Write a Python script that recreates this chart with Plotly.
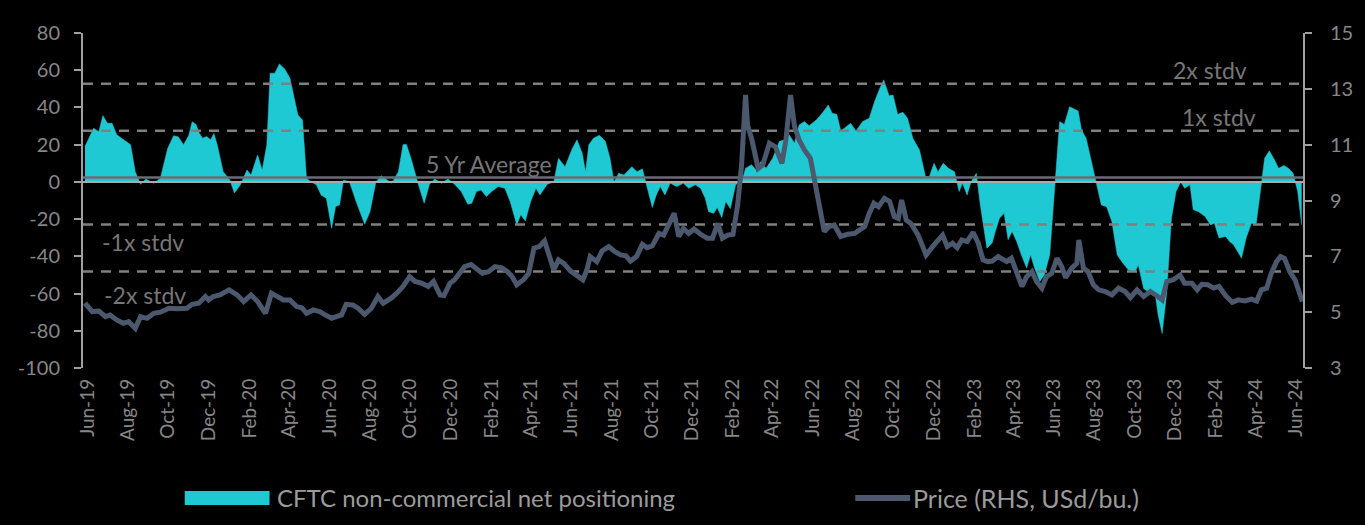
import plotly.graph_objects as go

# ---------------- data ----------------
pos_dates = [
    "2019-05-28","2019-06-10","2019-06-18","2019-06-24","2019-07-01","2019-07-08","2019-07-15","2019-07-25",
    "2019-08-05","2019-08-12","2019-08-20","2019-08-28","2019-09-09","2019-09-19","2019-09-30","2019-10-09",
    "2019-10-16","2019-10-24","2019-11-01","2019-11-06","2019-11-12","2019-11-17","2019-11-22","2019-11-28",
    "2019-12-04","2019-12-09","2019-12-14","2019-12-23","2020-01-02","2020-01-09","2020-01-18","2020-01-28",
    "2020-02-03","2020-02-13","2020-02-20","2020-02-27","2020-03-03","2020-03-10","2020-03-17","2020-03-25",
    "2020-04-02","2020-04-14","2020-04-21","2020-04-27","2020-05-04","2020-05-12","2020-05-19","2020-05-27",
    "2020-06-04","2020-06-10","2020-06-16","2020-06-22","2020-07-01","2020-07-11","2020-07-24","2020-08-01",
    "2020-08-10","2020-08-18","2020-09-03","2020-09-13","2020-09-20","2020-09-25","2020-10-02","2020-10-12",
    "2020-10-22","2020-10-30","2020-11-07","2020-11-17","2020-11-27","2020-12-07","2020-12-17","2020-12-27",
    "2021-01-02","2021-01-09","2021-01-16","2021-01-24","2021-02-01","2021-02-11","2021-02-21","2021-03-01",
    "2021-03-11","2021-03-17","2021-03-24","2021-04-01","2021-04-09","2021-04-15","2021-04-26","2021-05-06",
    "2021-05-13","2021-05-23","2021-06-03","2021-06-10","2021-06-18","2021-06-23","2021-06-28","2021-07-05",
    "2021-07-14","2021-07-23","2021-07-30","2021-08-05","2021-08-12","2021-08-20","2021-09-01","2021-09-09",
    "2021-09-17","2021-09-22","2021-10-02","2021-10-08","2021-10-14","2021-10-21","2021-10-29","2021-11-08",
    "2021-11-18","2021-11-26","2021-12-06","2021-12-14","2021-12-21","2021-12-26","2022-01-03","2022-01-08",
    "2022-01-15","2022-01-21","2022-01-28","2022-02-05","2022-02-15","2022-02-20","2022-03-01","2022-03-08",
    "2022-03-15","2022-03-23","2022-04-02","2022-04-12","2022-04-20","2022-04-27","2022-05-05","2022-05-12",
    "2022-05-20","2022-05-27","2022-06-07","2022-06-17","2022-06-25","2022-07-01","2022-07-08","2022-07-14",
    "2022-07-22","2022-07-29","2022-08-06","2022-08-16","2022-08-26","2022-09-03","2022-09-11","2022-09-17",
    "2022-09-25","2022-10-01","2022-10-08","2022-10-16","2022-10-23","2022-10-31","2022-11-10","2022-11-19",
    "2022-11-25","2022-12-02","2022-12-08","2022-12-16","2022-12-24","2023-01-02","2023-01-09","2023-01-14",
    "2023-01-21","2023-01-27","2023-02-04","2023-02-10","2023-02-20","2023-02-28","2023-03-04","2023-03-11",
    "2023-03-18","2023-03-24","2023-03-30","2023-04-06","2023-04-13","2023-04-21","2023-04-27","2023-05-03",
    "2023-05-11","2023-05-18","2023-05-26","2023-06-03","2023-06-10","2023-06-17","2023-06-25","2023-07-08",
    "2023-07-13","2023-07-20","2023-07-28","2023-08-05","2023-08-12","2023-08-20","2023-08-28","2023-09-05",
    "2023-09-12","2023-09-22","2023-10-02","2023-10-07","2023-10-15","2023-10-22","2023-11-01","2023-11-06",
    "2023-11-12","2023-11-19","2023-11-26","2023-12-03","2023-12-10","2023-12-16","2023-12-24","2023-12-29",
    "2024-01-06","2024-01-16","2024-01-24","2024-01-30","2024-02-06","2024-02-16","2024-02-22","2024-02-28",
    "2024-03-05","2024-03-11","2024-03-18","2024-03-26","2024-04-02","2024-04-10","2024-04-15","2024-04-22",
    "2024-04-30","2024-05-06","2024-05-14","2024-05-21","2024-05-28","2024-06-04","2024-06-10",
]
pos_values = [
    19, 28.8, 27, 35.6, 31.5, 31.5, 25.3, 22.6,
    20, 5.5, -1.3, 1.6, -0.7, 2, 18, 24.8,
    24.2, 20, 25, 32.3, 30.9, 26, 23.5, 24.4,
    22.6, 26, 20, 5.5, 1, -6, -1.6, 6.4,
    3.7, 14.5, 6.4, 20, 58.4, 58.4, 63.4, 60.7,
    55.7, 36, 33.3, 2, 0, -1.6, -7, -8.8,
    -24.9, -13.2, -12.4, 1, 0, -10.6, -22.8, -16,
    0, 3.3, -0.7, 5.5, 20, 20.2, 12.7, 0,
    -11.5, -1.3, 1.6, -0.7, 1.6, -1.3, -5.2, -12,
    -11.5, -5.2, -4.3, -7.9, -5.2, -2.5, -3.4, -10.6,
    -23.1, -17.7, -21, -10.6, -3.4, -7, -1.3, 0,
    12.7, 8.2, 18, 22.6, 15.4, 5.5, 20, 23.5,
    25, 21.8, 12.7, 0, 4.6, 3.7, 8.2, 5.5,
    7, 0, -13.8, -7, -2.5, -7, -0.7, -2.5,
    -0.7, -3.4, -1.6, -3.4, -8.8, -16, -16.9, -13.8,
    -19.2, -10.6, -14.3, -1.6, 1, 7.3, 9.2, 6.4,
    10.9, 7.3, 12.7, 21.7, 22.6, 25.3, 20.8, 30.6,
    32.4, 30.2, 33.3, 37.4, 41.3, 36.9, 36.3, 27.4,
    29.7, 31.5, 27.4, 32.4, 34.2, 43.1, 50.3, 54.8,
    46.3, 46.7, 36.3, 37.4, 34.2, 23.5, 17.2, 2.9,
    2.9, 10, 5.5, 10, 7.3, 5.5, -5.2, -0.7,
    -7, 0, 4.6, -12.4, -35.6, -32.9, -27.5, -19.5,
    -16.8, -31.1, -26.6, -32, -39.2, -46.3, -39.2, -46.3,
    -53.5, -49.9, -39.2, -1.6, 32.4, 30.9, 40.4, 38.1,
    27.9, 23.5, 10.9, -1.6, -12.4, -13.3, -21.4, -39.2,
    -42.9, -47.4, -48.3, -44.7, -57.3, -59.1, -59.1, -71.6,
    -81.5, -59.1, -19.7, -5.2, 0, -3.4, -1.6, -15,
    -16, -18.6, -23.1, -22.2, -30.2, -29.3, -32, -33.8,
    -37.4, -41, -30.2, -22.2, -23.1, -1.6, 12.7, 16.7,
    11.8, 7.3, 8.8, 7.3, 4.6, -5.2, -23.1,
]

price_dates = [
    "2019-05-28","2019-06-08","2019-06-18","2019-06-28","2019-07-05","2019-07-15","2019-07-25","2019-08-02",
    "2019-08-12","2019-08-20","2019-08-30","2019-09-09","2019-09-19","2019-10-02","2019-10-14","2019-10-29",
    "2019-11-06","2019-11-16","2019-11-26","2019-12-01","2019-12-08","2019-12-18","2020-01-01","2020-01-13",
    "2020-01-23","2020-02-03","2020-02-13","2020-02-25","2020-03-05","2020-03-13","2020-03-23","2020-04-02",
    "2020-04-12","2020-04-20","2020-04-27","2020-05-07","2020-05-17","2020-05-24","2020-06-04","2020-06-11",
    "2020-06-19","2020-06-26","2020-07-06","2020-07-14","2020-07-24","2020-08-03","2020-08-13","2020-08-21",
    "2020-09-03","2020-09-13","2020-09-20","2020-09-30","2020-10-08","2020-10-18","2020-10-28","2020-11-05",
    "2020-11-15","2020-11-21","2020-11-30","2020-12-07","2020-12-15","2020-12-22","2021-01-01","2021-01-09",
    "2021-01-18","2021-01-27","2021-02-06","2021-02-16","2021-02-25","2021-03-04","2021-03-11","2021-03-21",
    "2021-03-29","2021-04-06","2021-04-14","2021-04-22","2021-04-29","2021-05-06","2021-05-13","2021-05-21",
    "2021-05-31","2021-06-10","2021-06-19","2021-06-25","2021-06-30","2021-07-10","2021-07-18","2021-07-28",
    "2021-08-05","2021-08-15","2021-08-23","2021-08-30","2021-09-08","2021-09-17","2021-09-24","2021-10-02",
    "2021-10-12","2021-10-19","2021-10-27","2021-11-04","2021-11-11","2021-11-18","2021-11-26","2021-12-04",
    "2021-12-14","2021-12-24","2022-01-01","2022-01-09","2022-01-16","2022-01-24","2022-02-01","2022-02-08",
    "2022-02-14","2022-02-20","2022-02-23","2022-03-01","2022-03-11","2022-03-18","2022-03-28","2022-04-06",
    "2022-04-16","2022-04-22","2022-04-29","2022-05-05","2022-05-12","2022-05-20","2022-05-29","2022-06-07",
    "2022-06-13","2022-06-19","2022-06-26","2022-07-04","2022-07-14","2022-07-24","2022-08-04","2022-08-11",
    "2022-08-19","2022-08-26","2022-09-02","2022-09-09","2022-09-18","2022-09-26","2022-10-03","2022-10-09",
    "2022-10-14","2022-10-21","2022-10-28","2022-11-08","2022-11-20","2022-12-02","2022-12-15","2022-12-22",
    "2022-12-30","2023-01-06","2023-01-13","2023-01-21","2023-01-30","2023-02-07","2023-02-14","2023-02-21",
    "2023-02-28","2023-03-09","2023-03-22","2023-03-29","2023-04-06","2023-04-14","2023-04-21","2023-04-29",
    "2023-05-06","2023-05-14","2023-05-21","2023-05-29","2023-06-06","2023-06-13","2023-06-19","2023-06-28",
    "2023-07-06","2023-07-09","2023-07-16","2023-07-23","2023-07-31","2023-08-08","2023-08-18","2023-08-28",
    "2023-09-07","2023-09-17","2023-09-25","2023-10-05","2023-10-15","2023-10-25","2023-11-04","2023-11-12",
    "2023-11-19","2023-11-29","2023-12-09","2023-12-16","2023-12-27","2024-01-04","2024-01-11","2024-01-20",
    "2024-01-29","2024-02-06","2024-02-16","2024-02-26","2024-03-06","2024-03-16","2024-03-26","2024-04-03",
    "2024-04-10","2024-04-18","2024-04-25","2024-05-03","2024-05-09","2024-05-15","2024-05-23","2024-05-31",
    "2024-06-11",
]
price_values = [
    5.32, 5.02, 5.04, 4.84, 4.90, 4.72, 4.60, 4.66,
    4.42, 4.84, 4.78, 4.96, 5.00, 5.14, 5.12, 5.14,
    5.28, 5.32, 5.56, 5.44, 5.56, 5.62, 5.80, 5.62,
    5.38, 5.62, 5.38, 4.96, 5.68, 5.56, 5.44, 5.44,
    5.20, 5.16, 4.96, 5.08, 5.02, 4.92, 4.78, 4.84,
    4.90, 5.28, 5.26, 5.14, 4.92, 5.14, 5.56, 5.32,
    5.52, 5.74, 5.92, 6.27, 6.10, 6.04, 5.92, 6.10,
    5.62, 5.60, 6.04, 6.16, 6.45, 6.63, 6.71, 6.57,
    6.39, 6.45, 6.63, 6.59, 6.45, 6.27, 5.98, 6.16,
    6.39, 7.29, 7.35, 7.55, 7.05, 6.51, 6.87, 6.75,
    6.48, 6.33, 6.16, 6.51, 6.99, 6.81, 7.19, 7.35,
    7.19, 7.05, 7.02, 6.83, 6.99, 7.43, 7.31, 7.38,
    7.82, 7.76, 8.12, 8.54, 7.71, 8.00, 7.82, 7.98,
    7.79, 7.65, 7.65, 8.18, 7.65, 7.76, 7.79, 8.84,
    10.27, 12.78, 11.70, 11.23, 10.15, 10.27, 11.05, 10.93,
    10.33, 11.17, 12.78, 11.65, 11.17, 10.81, 10.51, 9.44,
    8.60, 7.89, 8.06, 8.12, 7.71, 7.79, 7.82, 7.94,
    8.06, 8.54, 8.90, 8.78, 9.08, 8.96, 8.42, 8.36,
    9.02, 8.30, 8.18, 7.76, 7.05, 7.41, 7.76, 7.35,
    7.47, 7.31, 7.59, 7.53, 7.86, 7.47, 6.87, 6.81,
    6.83, 6.99, 6.81, 6.93, 6.45, 5.92, 6.27, 6.45,
    6.10, 5.86, 6.27, 6.39, 6.93, 6.63, 6.24, 6.57,
    6.75, 7.59, 6.57, 6.45, 5.98, 5.80, 5.74, 5.62,
    5.86, 5.74, 5.52, 5.80, 5.56, 5.74, 5.59, 5.44,
    6.10, 6.16, 6.33, 6.04, 6.04, 5.80, 6.00, 5.98,
    5.86, 5.92, 5.59, 5.35, 5.44, 5.40, 5.47, 5.40,
    5.80, 5.86, 6.39, 6.81, 6.99, 6.93, 6.45, 6.16,
    5.38,
]

avg_5yr = 2.3
stdv = 25.2
band_labels = ["2x stdv", "1x stdv", "5 Yr Average", "-1x stdv", "-2x stdv"]
band_mult = [2, 1, 0, -1, -2]

left_ticks = [-100, -80, -60, -40, -20, 0, 20, 40, 60, 80]
left_tick_text = ["-100", "-80", "-60", "-40", "-20", "0", "20", "40", "60", "80"]
right_ticks = [3, 5, 7, 9, 11, 13, 15]

x_range = ["2019-05-25", "2024-06-12"]

# ---------------- style ----------------
FONT = "Lato"
CYAN = "rgb(31,201,211)"
SLATE = "rgb(76,88,110)"
DASH_C = "rgb(128,128,128)"
TICK_C = "rgb(135,135,135)"
ANN_C = "rgb(118,118,118)"
LEG_C = "rgb(155,155,155)"
AXIS_C = "rgb(160,160,160)"

fig = go.Figure()

fig.add_trace(go.Scatter(
    x=pos_dates, y=pos_values, mode="lines", fill="tozeroy",
    fillcolor=CYAN, line=dict(color=CYAN, width=0.5),
    name="CFTC non-commercial net positioning", showlegend=False, yaxis="y"))

# zero line (axis crossing) on top of area
fig.add_trace(go.Scatter(x=x_range, y=[0, 0], mode="lines",
                         line=dict(color="rgb(170,170,170)", width=2),
                         showlegend=False, hoverinfo="skip"))

for m in band_mult:
    lvl = avg_5yr + m * stdv
    if m == 0:
        ln = dict(color="rgb(105,108,118)", width=2.5)
    else:
        ln = dict(color=DASH_C, width=2.5, dash="10px,8px")
    fig.add_trace(go.Scatter(x=x_range, y=[lvl, lvl], mode="lines", line=ln,
                             showlegend=False, hoverinfo="skip"))

fig.add_trace(go.Scatter(
    x=price_dates, y=price_values, mode="lines",
    line=dict(color=SLATE, width=5), name="Price (RHS, USd/bu.)",
    showlegend=False, yaxis="y2"))

# band labels
ann_pos = {
    "2x stdv": dict(x=0.924, yanchor="bottom", yshift=-2),
    "1x stdv": dict(x=0.931, yanchor="bottom", yshift=-2),
    "5 Yr Average": dict(x=0.333, yanchor="bottom", yshift=-2),
    "-1x stdv": dict(x=0.049, yanchor="top", yshift=-1),
    "-2x stdv": dict(x=0.0507, yanchor="top", yshift=-8),
}
for lab, m in zip(band_labels, band_mult):
    p = ann_pos[lab]
    fig.add_annotation(text=lab, xref="paper", yref="y", x=p["x"],
                       y=avg_5yr + m * stdv, xanchor="center", yanchor=p["yanchor"],
                       yshift=p["yshift"], showarrow=False,
                       font=dict(family=FONT, size=23, color=ANN_C))

# custom legend
fig.add_shape(type="rect", xref="paper", yref="paper", x0=0.0834, x1=0.1529,
              y0=-0.409, y1=-0.367, fillcolor=CYAN, line=dict(width=0))
fig.add_annotation(text="CFTC non-commercial net positioning", xref="paper", yref="paper",
                   x=0.157, y=-0.388, xanchor="left", yanchor="middle", showarrow=False,
                   font=dict(family=FONT, size=24, color=LEG_C))
fig.add_shape(type="line", xref="paper", yref="paper", x0=0.633, x1=0.678,
              y0=-0.388, y1=-0.388, line=dict(color=SLATE, width=6))
fig.add_annotation(text="Price (RHS, USd/bu.)", xref="paper", yref="paper",
                   x=0.679, y=-0.388, xanchor="left", yanchor="middle", showarrow=False,
                   font=dict(family=FONT, size=25, color=LEG_C))

fig.update_layout(
    width=1365, height=525,
    paper_bgcolor="black", plot_bgcolor="black",
    margin=dict(l=83, r=59, t=33, b=157),
    showlegend=False,
    font=dict(family=FONT, color=TICK_C),
    xaxis=dict(type="date", range=x_range, tick0="2019-06-01", dtick="M2",
               tickformat="%b-%y", tickangle=-90, showgrid=False, zeroline=False,
               showline=False, ticks="", ticklabelstandoff=6,
               tickfont=dict(family=FONT, size=19, color=TICK_C)),
    yaxis=dict(range=[-100, 80], tickvals=left_ticks, ticktext=left_tick_text,
               showgrid=False, zeroline=False,
               showline=True, linecolor=AXIS_C, linewidth=2,
               ticks="outside", ticklen=7, tickwidth=2, tickcolor=AXIS_C,
               ticklabelstandoff=10,
               tickfont=dict(family=FONT, size=20, color=TICK_C)),
    yaxis2=dict(range=[3, 15], tickvals=right_ticks, overlaying="y", side="right",
                showgrid=False, zeroline=False, showline=True,
                linecolor=AXIS_C, linewidth=2,
                ticks="outside", ticklen=7, tickwidth=2, tickcolor=AXIS_C,
                ticklabelstandoff=14,
                tickfont=dict(family=FONT, size=20, color=TICK_C)),
)

fig.write_html(
    "out.html",
    config={"displayModeBar": False},
    post_script="document.body.style.margin='0';document.body.style.background='black';",
)
